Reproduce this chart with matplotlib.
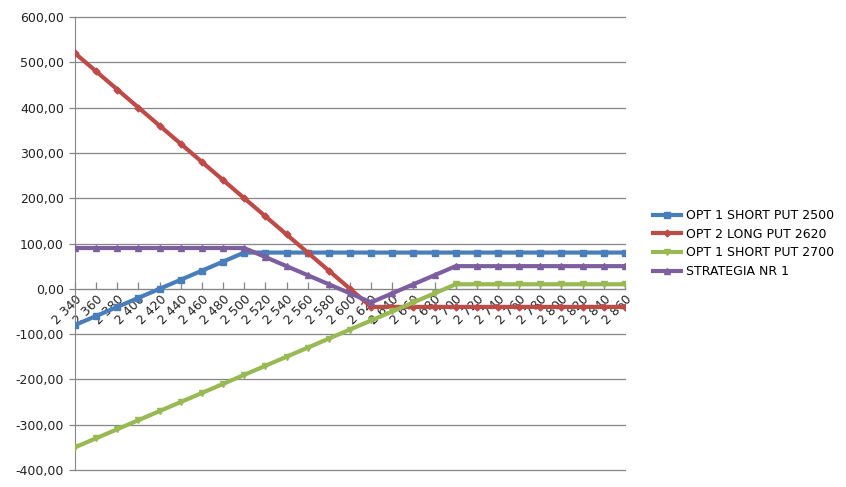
import matplotlib
matplotlib.use("Agg")
import matplotlib.pyplot as plt
from matplotlib.ticker import FuncFormatter

# strike prices on the category axis
STRIKES = [2340, 2360, 2380, 2400, 2420, 2440, 2460, 2480, 2500, 2520, 2540,
           2560, 2580, 2600, 2620, 2640, 2660, 2680, 2700, 2720, 2740, 2760,
           2780, 2800, 2820, 2840, 2860]

SHORT_PUT_2500 = [-80, -60, -40, -20, 0, 20, 40, 60, 80, 80, 80, 80, 80, 80,
                  80, 80, 80, 80, 80, 80, 80, 80, 80, 80, 80, 80, 80]
LONG_PUT_2620 = [520, 480, 440, 400, 360, 320, 280, 240, 200, 160, 120, 80,
                 40, 0, -40, -40, -40, -40, -40, -40, -40, -40, -40, -40, -40,
                 -40, -40]
SHORT_PUT_2700 = [-350, -330, -310, -290, -270, -250, -230, -210, -190, -170,
                  -150, -130, -110, -90, -70, -50, -30, -10, 10, 10, 10, 10,
                  10, 10, 10, 10, 10]
STRATEGIA = [90, 90, 90, 90, 90, 90, 90, 90, 90, 70, 50, 30, 10, -10, -30,
             -10, 10, 30, 50, 50, 50, 50, 50, 50, 50, 50, 50]

SERIES = [
    ("OPT 1 SHORT PUT 2500", SHORT_PUT_2500, "#4A7EBB", "s", 5),
    ("OPT 2 LONG PUT 2620", LONG_PUT_2620, "#BE4B48", "D", 3.5),
    ("OPT 1 SHORT PUT 2700", SHORT_PUT_2700, "#98B954", "v", 5),
    ("STRATEGIA NR 1", STRATEGIA, "#7D5FA0", "^", 5),
]

GRID = "#868686"

fig = plt.figure(figsize=(8.46, 4.87), dpi=100)
ax = fig.add_axes([0.0887, 0.035, 0.650, 0.930])

x = list(range(len(STRIKES)))
for label, vals, color, marker, ms in SERIES:
    ax.plot(x, vals, color=color, linewidth=3, marker=marker, markersize=ms,
            label=label, zorder=3)

# ── axes styling ───────────────────────────────────────────────────────────
ax.set_xlim(0, len(STRIKES) - 1)
ax.set_ylim(-400, 600)
ax.set_yticks(range(-400, 601, 100))
ax.yaxis.set_major_formatter(
    FuncFormatter(lambda v, _: f"{v:.2f}".replace(".", ",")))
ax.grid(axis="y", color=GRID, linewidth=0.9, zorder=0)
for gl in ax.get_ygridlines():
    gl.set_clip_on(False)
ax.tick_params(axis="y", length=4, color=GRID, width=0.9, labelsize=9,
               pad=4, labelcolor="#222222")

ax.spines[["top", "right"]].set_visible(False)
ax.spines["left"].set_color(GRID)
ax.spines["bottom"].set_color(GRID)
ax.spines["bottom"].set_position(("data", 0))

ax.set_xticks(x)
ax.set_xticklabels([f"{s // 1000} {s % 1000:03d}" for s in STRIKES],
                   rotation=45, ha="right", va="top", rotation_mode="anchor",
                   fontsize=9, color="#222222")
ax.tick_params(axis="x", direction="in", length=5, color=GRID, width=0.9,
               pad=3)

ax.legend(loc="center left", bbox_to_anchor=(1.03, 0.50), frameon=False,
          fontsize=9, handlelength=2.3, labelspacing=0.45, handletextpad=0.4)

fig.savefig("out.png", dpi=100)
